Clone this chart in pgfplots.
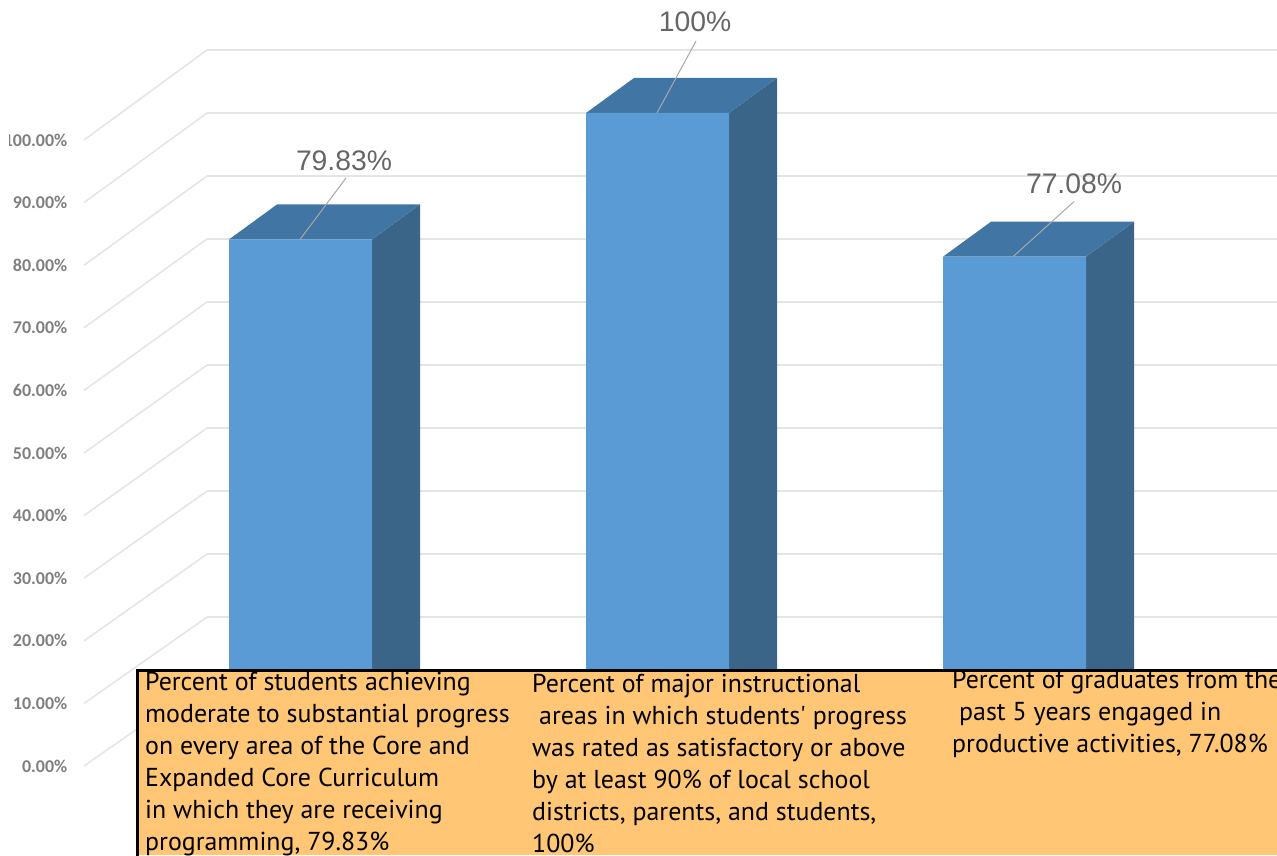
\documentclass[border=0pt]{standalone}
\usepackage{fontspec}
\setmainfont{Liberation Sans}
\newfontfamily\boxfont{PT Sans}
\newfontfamily\tickfont{Carlito}
\usepackage{pgfplots}
\pgfplotsset{compat=1.18}
\definecolor{barfront}{HTML}{5B9BD5}
\definecolor{bartop}{HTML}{4175A3}
\definecolor{barside}{HTML}{3A6488}
\definecolor{gridc}{HTML}{E4E6E6}
\definecolor{leader}{HTML}{A8A8A8}
\definecolor{valtext}{HTML}{666666}
\definecolor{ticktext}{HTML}{7F7F7F}
\definecolor{notefill}{HTML}{FFC675}
\begin{document}
\begin{tikzpicture}[
  note/.style={anchor=base west,inner sep=0pt,font=\boxfont\fontsize{25.9}{26}\selectfont,text=black}]
\path[use as bounding box] (0,0) rectangle (1277pt,855pt);
\clip (0,0) rectangle (1277pt,855pt);
\begin{axis}[
  at={(0,0)},anchor=south west,
  scale only axis,width=1277pt,height=855pt,
  xmin=0,xmax=1277,ymin=-18.34,ymax=118.02,
  axis line style={draw=none},
  tick style={draw=none},
  xtick=\empty,
  ytick={-4.15,5.83,15.82,25.80,35.79,45.77,55.75,65.74,75.72,85.71,95.69},
  yticklabels={0.00\%,10.00\%,20.00\%,30.00\%,40.00\%,50.00\%,60.00\%,70.00\%,80.00\%,90.00\%,100.00\%},
  yticklabel style={anchor=east,xshift=67.5pt,inner sep=0pt,text=ticktext,font=\tickfont\bfseries\fontsize{18}{18}\selectfont},
]
% floor-to-wall guide lines
\addplot[gridc,line width=1.6pt] coordinates {(84,95.69)(207,110.05)};
\addplot[gridc,line width=1.6pt] coordinates {(84,85.71)(207,100.00)};
\addplot[gridc,line width=1.6pt] coordinates {(84,75.72)(207,89.95)};
\addplot[gridc,line width=1.6pt] coordinates {(84,65.74)(207,79.90)};
\addplot[gridc,line width=1.6pt] coordinates {(84,55.75)(207,69.85)};
\addplot[gridc,line width=1.6pt] coordinates {(84,45.77)(207,59.80)};
\addplot[gridc,line width=1.6pt] coordinates {(84,35.79)(207,49.75)};
\addplot[gridc,line width=1.6pt] coordinates {(84,25.80)(207,39.70)};
\addplot[gridc,line width=1.6pt] coordinates {(84,15.82)(207,29.65)};
\addplot[gridc,line width=1.6pt] coordinates {(84,5.83)(207,19.60)};
\addplot[gridc,line width=1.6pt] coordinates {(84,-4.15)(207,9.55)};
% back wall gridlines
\addplot[gridc,line width=2.2pt] coordinates {(207,110.05)(1277,110.05)};
\addplot[gridc,line width=2.2pt] coordinates {(207,100.00)(1277,100.00)};
\addplot[gridc,line width=2.2pt] coordinates {(207,89.95)(1277,89.95)};
\addplot[gridc,line width=2.2pt] coordinates {(207,79.90)(1277,79.90)};
\addplot[gridc,line width=2.2pt] coordinates {(207,69.85)(1277,69.85)};
\addplot[gridc,line width=2.2pt] coordinates {(207,59.80)(1277,59.80)};
\addplot[gridc,line width=2.2pt] coordinates {(207,49.75)(1277,49.75)};
\addplot[gridc,line width=2.2pt] coordinates {(207,39.70)(1277,39.70)};
\addplot[gridc,line width=2.2pt] coordinates {(207,29.65)(1277,29.65)};
\addplot[gridc,line width=2.2pt] coordinates {(207,19.60)(1277,19.60)};
% side faces
\addplot[fill=barside,draw=none] coordinates {(372,0)(372,79.83)(420,85.41)(420,5.58)} -- cycle;
\addplot[fill=barside,draw=none] coordinates {(729,0)(729,100)(777,105.58)(777,5.58)} -- cycle;
\addplot[fill=barside,draw=none] coordinates {(1086,0)(1086,77.08)(1134,82.66)(1134,5.58)} -- cycle;
% top faces
\addplot[fill=bartop,draw=none] coordinates {(229,79.83)(372,79.83)(420,85.41)(277,85.41)} -- cycle;
\addplot[fill=bartop,draw=none] coordinates {(586,100)(729,100)(777,105.58)(634,105.58)} -- cycle;
\addplot[fill=bartop,draw=none] coordinates {(943,77.08)(1086,77.08)(1134,82.66)(991,82.66)} -- cycle;
% front faces
\addplot[ybar,bar width=143pt,fill=barfront,draw=none] coordinates {(300.5,79.83)(657.5,100)(1014.5,77.08)};
% value leaders and labels
\addplot[leader,line width=1pt] coordinates {(300,79.83)(346,89.63)};
\addplot[leader,line width=1pt] coordinates {(657,100)(696,111.48)};
\addplot[leader,line width=1pt] coordinates {(1013,77.08)(1074,85.87)};
\node[text=valtext,font=\fontsize{28.3}{30}\selectfont,inner sep=0pt] at (axis cs:344,92.34) {79.83\%};
\node[text=valtext,font=\fontsize{28.3}{30}\selectfont,inner sep=0pt] at (axis cs:695,114.5) {100\%};
\node[text=valtext,font=\fontsize{28.3}{30}\selectfont,inner sep=0pt] at (axis cs:1074,88.68) {77.08\%};
\end{axis}
% trim the left edge of the tick column
\fill[white] (0,0) rectangle (8.5pt,855pt);
% caption panel
\fill[notefill] (137.5pt,0) rectangle (1280pt,184.5pt);
\draw[black,line width=3pt] (137.5pt,-3pt) -- (137.5pt,184.5pt) -- (1280pt,184.5pt);
\node[note] at (145pt,164.3pt) {Percent of students achieving};
\node[note] at (145pt,132.3pt) {moderate to substantial progress};
\node[note] at (145pt,100.3pt) {on every area of the Core and};
\node[note] at (145pt,68.3pt) {Expanded Core Curriculum};
\node[note] at (145pt,36.3pt) {in which they are receiving};
\node[note] at (145pt,4.3pt) {programming, 79.83\%};
\node[note] at (532pt,162.3pt) {Percent of major instructional};
\node[note] at (539pt,130.3pt) {areas in which students' progress};
\node[note] at (532pt,98.3pt) {was rated as satisfactory or above};
\node[note] at (532pt,66.6pt) {by at least 90\% of local school};
\node[note] at (532pt,35pt) {districts, parents, and students,};
\node[note] at (532pt,3pt) {100\%};
\node[note] at (952pt,166.3pt) {Percent of graduates from the};
\node[note] at (959pt,135pt) {past 5 years engaged in};
\node[note] at (952pt,103pt) {productive activities, 77.08\%};
\end{tikzpicture}
\end{document}
